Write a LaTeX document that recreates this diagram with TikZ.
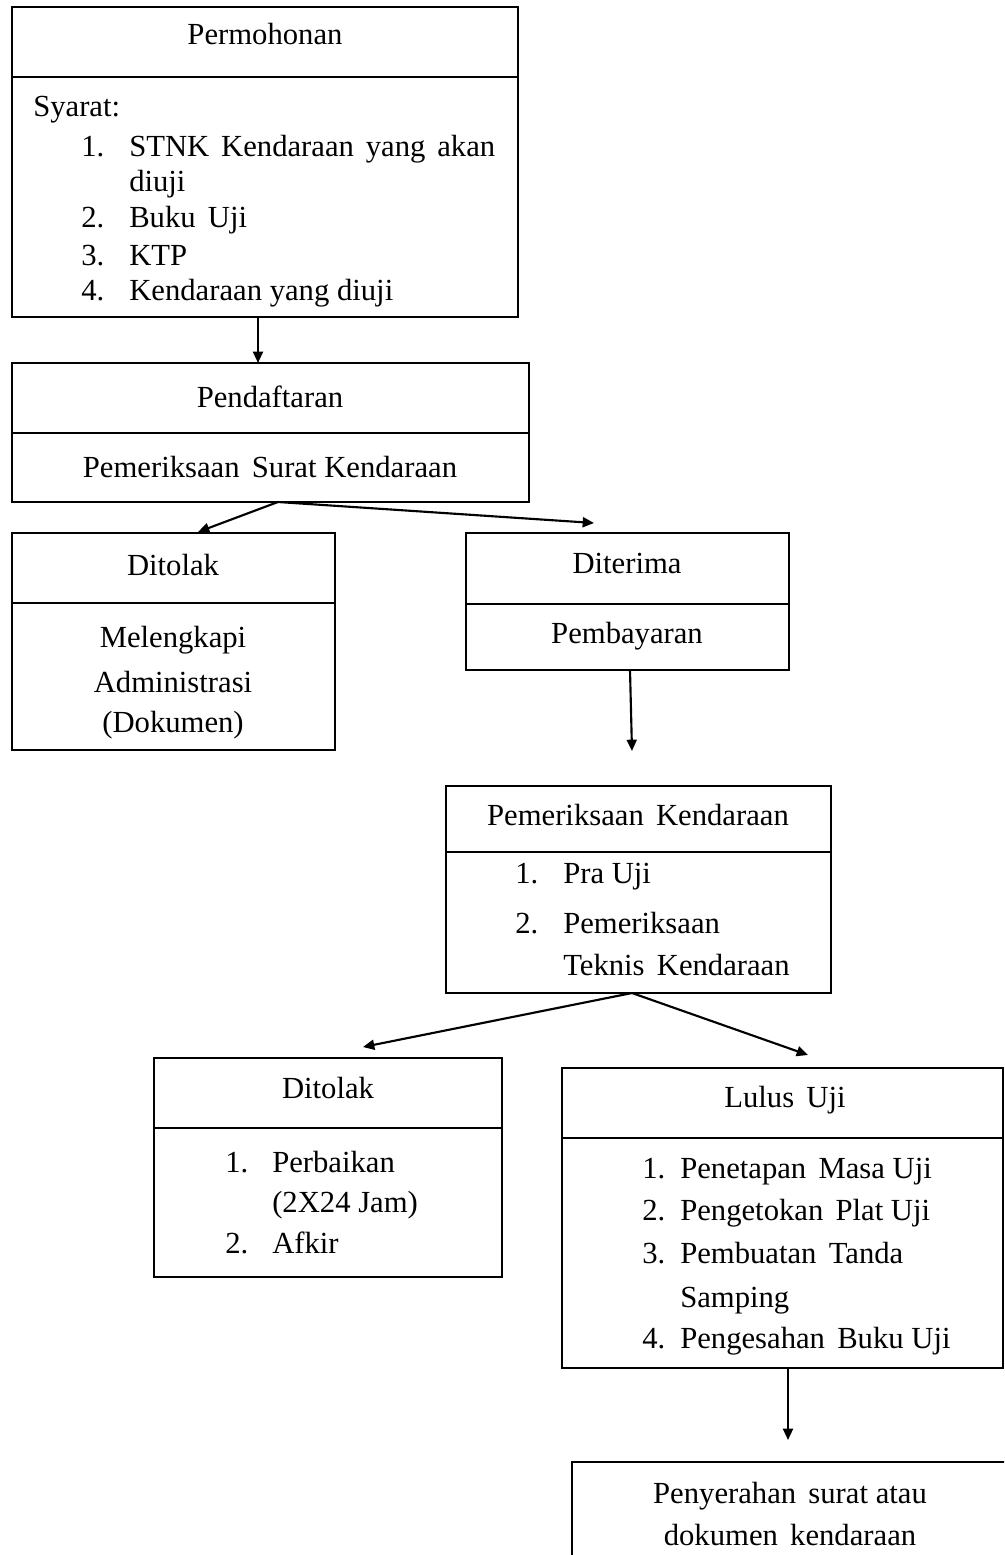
\documentclass[tikz,border=0pt]{standalone}
\usepackage{fontspec}
\setmainfont{Liberation Serif}
\usetikzlibrary{arrows.meta,fit}
\newcommand\wsp{\hspace{0.4em}}
\begin{document}
\begin{tikzpicture}[x=0.75pt,y=-0.75pt,
  part/.style={draw, line width=1.4pt, inner sep=0pt, outer sep=0pt},
  t/.style={font=\fontsize{23pt}{27pt}\selectfont, inner sep=0pt, anchor=base},
  tl/.style={t, anchor=base west},
  arr/.style={line width=1.6pt, -{Triangle[length=8.5pt,width=7.5pt]}}]
\clip (0,0) rectangle (1004,1555);
% boxes
\node[part, fit={(12,7)(518,77)}] (bPermH) {};
\node[part, fit={(12,77)(518,317)}] (bPermB) {};
\node[part, fit={(12,363)(529,433)}] (bPendH) {};
\node[part, fit={(12,433)(529,502)}] (bPendB) {};
\node[part, fit={(12,533)(335,603)}] (bTol1H) {};
\node[part, fit={(12,603)(335,750)}] (bTol1B) {};
\node[part, fit={(466,533)(789,604)}] (bTerH) {};
\node[part, fit={(466,604)(789,670)}] (bTerB) {};
\node[part, fit={(446,786)(831,852)}] (bPkH) {};
\node[part, fit={(446,852)(831,993)}] (bPkB) {};
\node[part, fit={(154,1058)(502,1128)}] (bTol2H) {};
\node[part, fit={(154,1128)(502,1277)}] (bTol2B) {};
\node[part, fit={(562,1068)(1003,1138)}] (bLulH) {};
\node[part, fit={(562,1138)(1003,1368)}] (bLulB) {};
\node[part, fit={(572,1462)(1010,1580)}] (bFin) {};
% texts: Permohonan
\node[t] (permT) at (265,45) {Permohonan};
\node[tl] (syr) at (33,117) {Syarat:};
\node[tl] (n1a) at (81,157) {1.};
\node[tl] (i1a) at (129,157) {\makebox[274.5pt][s]{STNK Kendaraan yang akan}};
\node[tl] (i1b) at (129,192) {diuji};
\node[tl] (n1b) at (81,228) {2.};
\node[tl] (i1c) at (129,228) {Buku\wsp Uji};
\node[tl] (n1c) at (81,265) {3.};
\node[tl] (i1d) at (129,265) {KTP};
\node[tl] (n1d) at (81,300) {4.};
\node[tl] (i1e) at (129,300) {Kendaraan yang diuji};
% Pendaftaran
\node[t] (pendT) at (270,407) {Pendaftaran};
\node[t] (pendS) at (270,477) {Pemeriksaan\wsp Surat Kendaraan};
% Ditolak 1
\node[t] (tol1T) at (173,575) {Ditolak};
\node[t] (tol1a) at (173,647) {Melengkapi};
\node[t] (tol1b) at (173,692) {Administrasi};
\node[t] (tol1c) at (173,732) {(Dokumen)};
% Diterima
\node[t] (terT) at (627,573) {Diterima};
\node[t] (terS) at (627,643) {Pembayaran};
% Pemeriksaan Kendaraan
\node[t] (pkT) at (638,825) {Pemeriksaan\wsp Kendaraan};
\node[tl] (pkn1) at (515,883) {1.};
\node[tl] (pki1) at (563,883) {Pra Uji};
\node[tl] (pkn2) at (515,933) {2.};
\node[tl] (pki2) at (563,933) {Pemeriksaan};
\node[tl] (pki3) at (563,975) {Teknis\wsp Kendaraan};
% Ditolak 2
\node[t] (tol2T) at (328,1098) {Ditolak};
\node[tl] (t2n1) at (225,1172) {1.};
\node[tl] (t2i1) at (272,1172) {Perbaikan};
\node[tl] (t2i2) at (272,1212) {(2X24 Jam)};
\node[tl] (t2n2) at (225,1253) {2.};
\node[tl] (t2i3) at (272,1253) {Afkir};
% Lulus Uji
\node[t] (lulT) at (785,1107) {Lulus\wsp Uji};
\node[tl] (lun1) at (642,1178) {1.};
\node[tl] (lui1) at (680,1178) {Penetapan\wsp Masa Uji};
\node[tl] (lun2) at (642,1220) {2.};
\node[tl] (lui2) at (680,1220) {Pengetokan\wsp Plat Uji};
\node[tl] (lun3) at (642,1263) {3.};
\node[tl] (lui3) at (680,1263) {Pembuatan\wsp Tanda};
\node[tl] (lui4) at (680,1307) {Samping};
\node[tl] (lun4) at (642,1348) {4.};
\node[tl] (lui5) at (680,1348) {Pengesahan\wsp Buku Uji};
% Final
\node[t] (finT1) at (790,1503) {Penyerahan\wsp surat atau};
\node[t] (finT2) at (790,1545) {dokumen\wsp kendaraan};
% arrows
\coordinate (t1) at (258,363);
\coordinate (t2) at (198,532);
\coordinate (t3) at (594,523);
\coordinate (x2) at (278,0);
\coordinate (t4) at (632,751);
\coordinate (x4) at (630,0);
\coordinate (t5) at (363,1047);
\coordinate (t6) at (808,1055);
\coordinate (x5) at (632,0);
\coordinate (t7) at (788,1440);
\draw[arr] (bPermB.south -| t1) -- (t1);
\draw[arr] (bPendB.south -| x2) -- (t2);
\draw[arr] (bPendB.south -| x2) -- (t3);
\draw[arr] (bTerB.south -| x4) -- (t4);
\draw[arr] (bPkB.south -| x5) -- (t5);
\draw[arr] (bPkB.south -| x5) -- (t6);
\draw[arr] (bLulB.south -| t7) -- (t7);
\end{tikzpicture}
\end{document}
